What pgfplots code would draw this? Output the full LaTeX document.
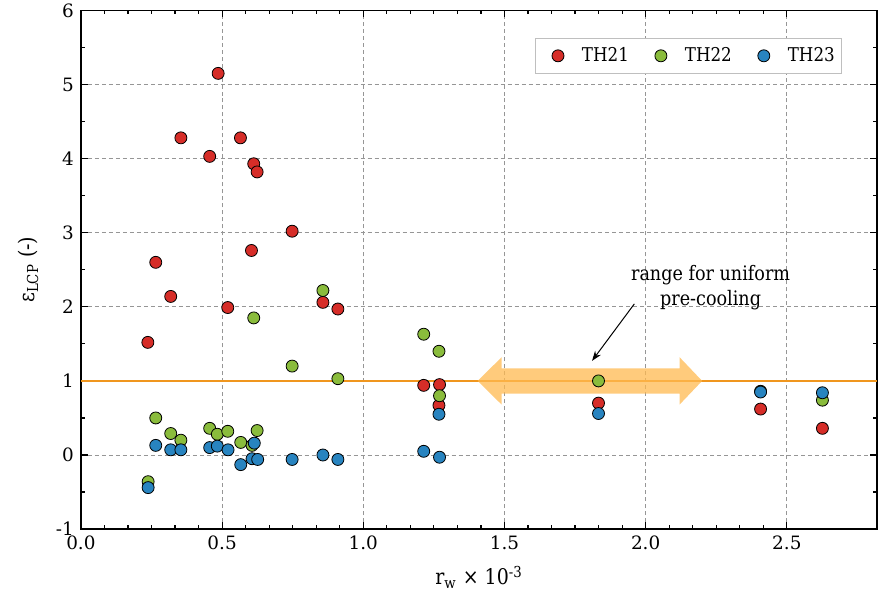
\documentclass[border=0pt]{standalone}
\usepackage{fontspec}
\setmainfont{DejaVu Serif}[FakeStretch=0.88]
\newfontfamily\tickfont{DejaVu Serif}
\usepackage{pgfplots}
\pgfplotsset{compat=1.18}
\usetikzlibrary{calc,arrows.meta}

\definecolor{thred}{RGB}{214,45,40}
\definecolor{thgreen}{RGB}{138,188,60}
\definecolor{thblue}{RGB}{40,132,192}
\definecolor{lineorange}{RGB}{240,150,30}
\definecolor{arroworange}{RGB}{255,185,80}
\definecolor{gridgray}{RGB}{150,150,150}

\begin{document}
\begin{tikzpicture}[
    pt/.style={only marks, mark=*, mark size=3pt,
      mark options={draw=black!75, line width=0.4pt, fill opacity=0.92}},
  ]
  \begin{axis}[
    scale only axis,
    width=398.5pt, height=259.6pt,
    xmin=0, xmax=2.82, ymin=-1, ymax=6,
    xtick={0,0.5,...,2.5}, ytick={-1,0,...,6},
    minor x tick num=5, minor y tick num=1,
    tick align=inside,
    major tick length=3.5pt, minor tick length=2pt,
    axis line style={line width=0.75pt},
    every tick/.style={black, line width=0.6pt},
    xticklabel style={/pgf/number format/.cd, fixed, fixed zerofill, precision=1},
    /pgf/number format/assume math mode=true,
    tick label style={font=\tickfont\fontsize{9.2}{11}\selectfont},
    label style={font=\fontsize{10.8}{12}\selectfont},
    xmajorgrids, ymajorgrids,
    major grid style={gridgray, dashed, line width=0.4pt, dash pattern=on 2pt off 1.5pt},
    xlabel={r\textsubscript{w} × 10\textsuperscript{-3}},
    ylabel={ε\textsubscript{LCP} (-)},
    xlabel style={yshift=-1pt},
    ylabel style={yshift=2pt},
    legend columns=3,
    legend image code/.code={
      \node[draw=none, fill=none, inner sep=0pt, minimum width=20pt,
        minimum height=6pt] at (0pt,0pt) {};
      \draw[#1] plot coordinates {(0pt,0pt)};
    },
    legend style={at={(0.956,0.947)}, anchor=north east,
      draw=black!25, fill=white, font=\fontsize{9.5}{11}\selectfont,
      inner ysep=2.5pt, inner xsep=1.5pt,
      /tikz/every even column/.append style={column sep=4pt}},
  ]
    % TH21
    \addplot[pt, mark options={fill=thred}] coordinates {
      (0.237,1.52) (0.265,2.60) (0.318,2.14) (0.354,4.28) (0.456,4.03)
      (0.486,5.15) (0.520,1.99) (0.565,4.28) (0.604,2.76) (0.612,3.93)
      (0.624,3.82) (0.748,3.02) (0.857,2.06) (0.910,1.97) (1.214,0.94)
      (1.270,0.95) (1.268,0.67) (1.833,0.70) (2.407,0.62) (2.626,0.36)
    };
    \addlegendentry{TH21}
    % TH22
    \addplot[pt, mark options={fill=thgreen}] coordinates {
      (0.238,-0.36) (0.265,0.50) (0.318,0.29) (0.354,0.20) (0.456,0.36)
      (0.483,0.28) (0.520,0.32) (0.566,0.17) (0.606,0.13) (0.612,1.85)
      (0.624,0.33) (0.748,1.20) (0.857,2.22) (0.910,1.03) (1.214,1.63)
      (1.268,1.40) (1.270,0.80) (1.833,1.00) (2.407,0.86) (2.626,0.74)
    };
    \addlegendentry{TH22}
    % TH23
    \addplot[pt, mark options={fill=thblue}] coordinates {
      (0.238,-0.44) (0.265,0.13) (0.318,0.07) (0.354,0.07) (0.456,0.10)
      (0.483,0.12) (0.521,0.07) (0.566,-0.13) (0.606,-0.05) (0.614,0.16)
      (0.626,-0.06) (0.748,-0.06) (0.857,0.00) (0.910,-0.06) (1.214,0.05)
      (1.270,-0.03) (1.268,0.55) (1.833,0.56) (2.407,0.85) (2.626,0.84)
    };
    \addlegendentry{TH23}

    % reference line at 1
    \addplot[forget plot, lineorange, line width=0.8pt] coordinates {(0,1) (2.82,1)};

    % range arrow
    \addplot[forget plot, draw=none, fill=arroworange, fill opacity=0.75] coordinates {
      (1.405,1) (1.49,1.32) (1.49,1.17) (2.12,1.17) (2.12,1.32)
      (2.20,1) (2.12,0.68) (2.12,0.83) (1.49,0.83) (1.49,0.68) (1.405,1)
    };

    \node[align=center, font=\fontsize{10}{12.5}\selectfont]
      at (axis cs:2.23,2.26) {range for uniform\\pre-cooling};
    \draw[-{Stealth[length=5pt,width=3.5pt]}, line width=0.5pt]
      (axis cs:1.96,2.04) -- (axis cs:1.81,1.27);
  \end{axis}
  \pgfresetboundingbox
  \path ($(current axis.south west)+(-40.5pt,-34pt)$)
    rectangle ($(current axis.north east)+(0.4pt,5.2pt)$);
\end{tikzpicture}
\end{document}
